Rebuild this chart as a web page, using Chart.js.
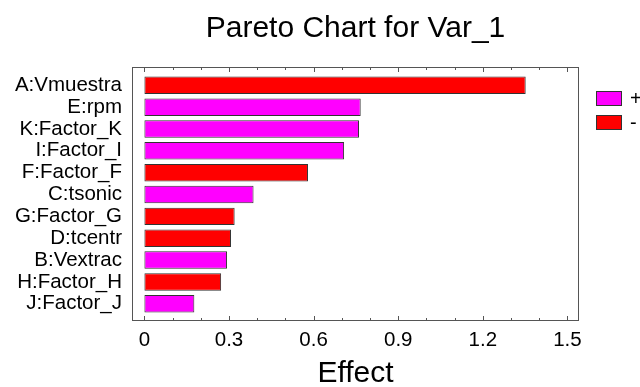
<!DOCTYPE html>
<html>
<head>
<meta charset="utf-8">
<script src="https://cdn.jsdelivr.net/npm/chart.js@4.4.0/dist/chart.umd.min.js"></script>
<style>
  html, body { margin: 0; padding: 0; background: #fff; }
  canvas { display: block; }
</style>
</head>
<body>
<canvas id="chart" width="640" height="387"></canvas>
<script>
const categories = ['A:Vmuestra', 'E:rpm', 'K:Factor_K', 'I:Factor_I', 'F:Factor_F', 'C:tsonic',
                    'G:Factor_G', 'D:tcentr', 'B:Vextrac', 'H:Factor_H', 'J:Factor_J'];
const effects = [1.352, 0.767, 0.761, 0.708, 0.580, 0.387, 0.320, 0.307, 0.293, 0.272, 0.177];
const signs = ['-', '+', '+', '+', '-', '+', '-', '-', '+', '-', '+'];
const xTicks = [0, 0.3, 0.6, 0.9, 1.2, 1.5];
const xTickLabels = ['0', '0.3', '0.6', '0.9', '1.2', '1.5'];

const FONT = "'Liberation Sans', Arial, sans-serif";
const signColor = { '+': '#ff00ff', '-': '#ff0000' };

// frame, inner tick marks and the +/- legend
const framePlugin = {
    id: 'frame',
    afterDraw(chart) {
        const ctx = chart.ctx, a = chart.chartArea, xs = chart.scales.x;
        ctx.save();
        ctx.strokeStyle = '#555';
        ctx.lineWidth = 1;
        ctx.strokeRect(a.left + 0.5, a.top + 0.5, a.right - a.left - 1, a.bottom - a.top - 1);
        for (let i = 0; i <= 15; i++) {
            const v = i / 10;
            const px = Math.round(xs.getPixelForValue(v)) + 0.5;
            const len = (i % 3 === 0) ? 5 : 3;
            ctx.beginPath();
            ctx.moveTo(px, a.top); ctx.lineTo(px, a.top + len);
            ctx.moveTo(px, a.bottom); ctx.lineTo(px, a.bottom - len);
            ctx.stroke();
        }
        // legend
        const items = [['+', signColor['+'], 91], ['-', signColor['-'], 115]];
        ctx.font = '20px ' + FONT;
        ctx.textBaseline = 'middle';
        items.forEach(([t, c, y]) => {
            ctx.fillStyle = c;
            ctx.fillRect(596, y, 26, 15);
            ctx.strokeStyle = '#333';
            ctx.strokeRect(596.5, y + 0.5, 25, 14);
            ctx.fillStyle = '#000';
            ctx.fillText(t, 630, y + 8);
        });
        ctx.restore();
    }
};

new Chart(document.getElementById('chart'), {
    type: 'bar',
    data: {
        datasets: [{
            data: effects.map((v, i) => ({ x: v, y: i })),
            backgroundColor: signs.map(s => signColor[s]),
            borderColor: '#333',
            borderWidth: 1,
            borderSkipped: false,
            barPercentage: 0.8,
            categoryPercentage: 1
        }]
    },
    options: {
        indexAxis: 'y',
        responsive: false,
        animation: false,
        layout: { padding: { left: 0, right: 61, top: 0, bottom: 0 } },
        plugins: {
            legend: { display: false },
            tooltip: { enabled: false },
            title: {
                display: true,
                text: 'Pareto Chart for Var_1',
                color: '#000',
                fullSize: false,
                font: { family: FONT, size: 30, weight: 'normal', lineHeight: 1.2 },
                padding: { top: 11, bottom: 20 }
            }
        },
        scales: {
            x: {
                type: 'linear',
                min: -0.044,
                max: 1.541,
                grid: { display: false, drawTicks: false },
                border: { display: false },
                afterBuildTicks: s => { s.ticks = xTicks.map(v => ({ value: v })); },
                afterFit: s => { s.height = 66; },
                ticks: {
                    color: '#000',
                    padding: 7,
                    font: { family: FONT, size: 20.5 },
                    callback: v => xTickLabels[xTicks.indexOf(v)]
                },
                title: {
                    display: true,
                    text: 'Effect',
                    color: '#000',
                    font: { family: FONT, size: 30, lineHeight: 1 },
                    padding: { top: 0, bottom: -2 }
                }
            },
            y: {
                type: 'linear',
                reverse: true,
                offset: false,
                min: -0.838,
                max: 10.79,
                grid: { display: false, drawTicks: false },
                border: { display: false },
                afterBuildTicks: s => { s.ticks = categories.map((c, i) => ({ value: i })); },
                afterFit: s => { s.width = 132; },
                ticks: {
                    color: '#000',
                    padding: 10,
                    autoSkip: false,
                    font: { family: FONT, size: 20.5 },
                    callback: v => categories[v]
                }
            }
        }
    },
    plugins: [framePlugin]
});
</script>
</body>
</html>
